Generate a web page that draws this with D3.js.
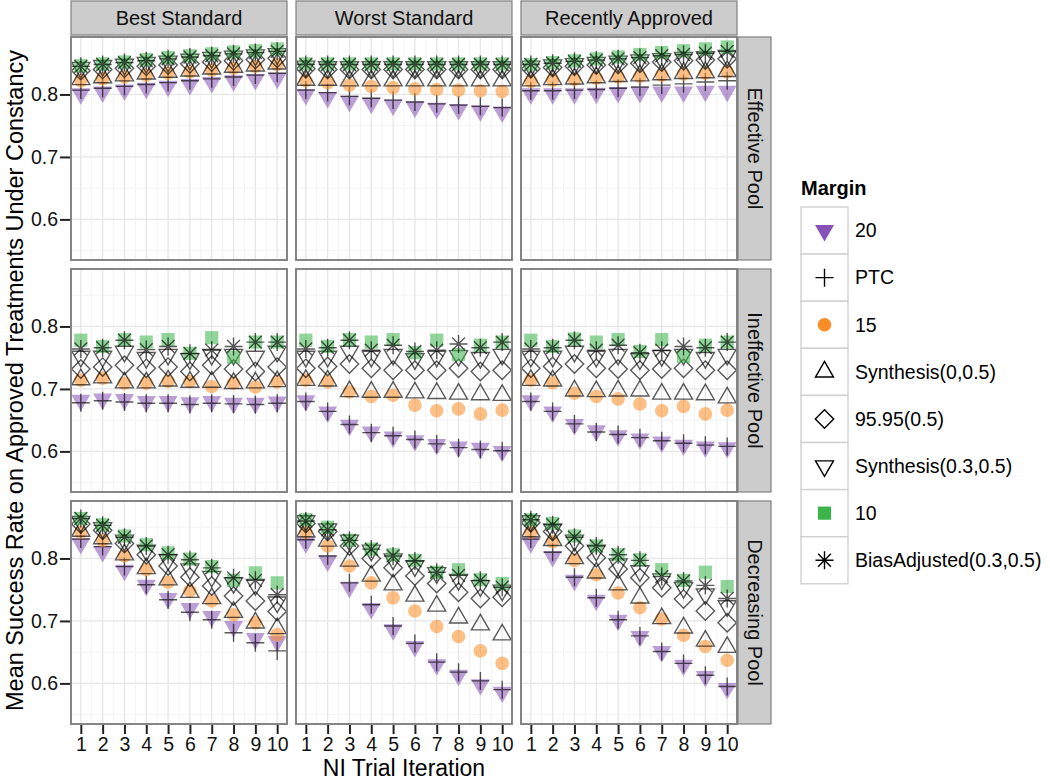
<!DOCTYPE html>
<html>
<head>
<meta charset="utf-8">
<script src="https://cdn.jsdelivr.net/npm/d3@7/dist/d3.min.js"></script>
<style>
  html, body { margin: 0; padding: 0; background: #fff; }
  svg { display: block; font-family: "Liberation Sans", Arial, sans-serif; }
</style>
</head>
<body>
<svg id="chart" width="1050" height="782"></svg>
<script>
// ---------------- DATA ----------------
const iterations = [1, 2, 3, 4, 5, 6, 7, 8, 9, 10];
const columnFacets = ["Best Standard", "Worst Standard", "Recently Approved"];
const rowFacets = ["Effective Pool", "Ineffective Pool", "Decreasing Pool"];
const margins = ["20", "PTC", "15", "Synthesis(0,0.5)", "95.95(0.5)", "Synthesis(0.3,0.5)", "10", "BiasAdjusted(0.3,0.5)"];
const yTicks = [0.6, 0.7, 0.8];
const yMinor = [0.55, 0.65, 0.75, 0.85];

// each panel: rows in the order of `margins`, 10 values per iteration
const bestEffective = [
  [0.801, 0.804, 0.807, 0.810, 0.813, 0.816, 0.819, 0.822, 0.824, 0.826],
  [0.807, 0.810, 0.813, 0.816, 0.819, 0.822, 0.825, 0.828, 0.831, 0.834],
  [0.822, 0.825, 0.828, 0.831, 0.834, 0.836, 0.839, 0.842, 0.845, 0.848],
  [0.824, 0.827, 0.830, 0.833, 0.836, 0.838, 0.841, 0.844, 0.846, 0.849],
  [0.838, 0.840, 0.842, 0.845, 0.847, 0.849, 0.852, 0.854, 0.856, 0.858],
  [0.843, 0.846, 0.848, 0.851, 0.853, 0.856, 0.859, 0.861, 0.863, 0.865],
  [0.846, 0.849, 0.852, 0.856, 0.859, 0.862, 0.865, 0.868, 0.870, 0.873],
  [0.845, 0.848, 0.851, 0.854, 0.857, 0.860, 0.862, 0.865, 0.867, 0.869]
];
const worstEffective = [
  [0.800, 0.795, 0.789, 0.786, 0.783, 0.780, 0.778, 0.776, 0.774, 0.772],
  [0.807, 0.803, 0.797, 0.794, 0.791, 0.788, 0.785, 0.783, 0.781, 0.779],
  [0.822, 0.819, 0.815, 0.813, 0.811, 0.809, 0.808, 0.807, 0.806, 0.805],
  [0.823, 0.823, 0.822, 0.822, 0.822, 0.822, 0.822, 0.822, 0.822, 0.822],
  [0.841, 0.840, 0.840, 0.840, 0.840, 0.840, 0.840, 0.840, 0.840, 0.840],
  [0.845, 0.844, 0.844, 0.844, 0.844, 0.844, 0.844, 0.844, 0.844, 0.844],
  [0.849, 0.849, 0.849, 0.849, 0.849, 0.849, 0.849, 0.849, 0.849, 0.849],
  [0.848, 0.848, 0.848, 0.848, 0.848, 0.848, 0.848, 0.848, 0.848, 0.848]
];
const recentEffective = [
  [0.801, 0.801, 0.801, 0.802, 0.803, 0.803, 0.804, 0.804, 0.805, 0.805],
  [0.806, 0.806, 0.807, 0.808, 0.810, 0.812, 0.815, 0.817, 0.820, 0.822],
  [0.821, 0.823, 0.824, 0.826, 0.828, 0.829, 0.831, 0.833, 0.834, 0.836],
  [0.822, 0.824, 0.825, 0.827, 0.829, 0.830, 0.832, 0.834, 0.835, 0.837],
  [0.841, 0.843, 0.845, 0.847, 0.848, 0.850, 0.852, 0.854, 0.855, 0.857],
  [0.845, 0.847, 0.849, 0.851, 0.853, 0.855, 0.857, 0.859, 0.860, 0.862],
  [0.848, 0.851, 0.854, 0.857, 0.860, 0.864, 0.867, 0.870, 0.873, 0.876],
  [0.848, 0.850, 0.853, 0.855, 0.857, 0.859, 0.862, 0.864, 0.866, 0.869]
];
const bestIneffective = [
  [0.682, 0.684, 0.683, 0.680, 0.680, 0.678, 0.680, 0.677, 0.677, 0.679],
  [0.678, 0.681, 0.679, 0.677, 0.677, 0.675, 0.677, 0.676, 0.675, 0.677],
  [0.714, 0.717, 0.709, 0.709, 0.712, 0.712, 0.704, 0.709, 0.703, 0.711],
  [0.715, 0.718, 0.710, 0.710, 0.713, 0.711, 0.711, 0.709, 0.710, 0.712],
  [0.732, 0.735, 0.738, 0.733, 0.735, 0.728, 0.738, 0.732, 0.728, 0.735],
  [0.752, 0.752, 0.760, 0.750, 0.755, 0.748, 0.755, 0.755, 0.752, 0.760],
  [0.778, 0.768, 0.779, 0.775, 0.779, 0.757, 0.782, 0.751, 0.775, 0.775],
  [0.764, 0.766, 0.778, 0.763, 0.768, 0.757, 0.762, 0.768, 0.775, 0.775]
];
const worstIneffective = [
  [0.681, 0.663, 0.642, 0.631, 0.623, 0.617, 0.611, 0.607, 0.605, 0.600],
  [0.680, 0.664, 0.643, 0.630, 0.625, 0.619, 0.612, 0.606, 0.603, 0.601],
  [0.714, 0.711, 0.695, 0.688, 0.690, 0.674, 0.665, 0.668, 0.660, 0.666],
  [0.714, 0.713, 0.696, 0.695, 0.695, 0.694, 0.693, 0.692, 0.691, 0.690],
  [0.733, 0.736, 0.740, 0.733, 0.730, 0.730, 0.730, 0.733, 0.728, 0.730],
  [0.752, 0.752, 0.760, 0.752, 0.755, 0.748, 0.752, 0.753, 0.750, 0.755],
  [0.778, 0.768, 0.779, 0.775, 0.779, 0.758, 0.778, 0.755, 0.770, 0.775],
  [0.764, 0.766, 0.778, 0.762, 0.770, 0.760, 0.762, 0.772, 0.766, 0.775]
];
const recentIneffective = [
  [0.681, 0.663, 0.643, 0.633, 0.625, 0.620, 0.615, 0.610, 0.607, 0.606],
  [0.680, 0.664, 0.644, 0.631, 0.627, 0.622, 0.617, 0.613, 0.610, 0.608],
  [0.714, 0.710, 0.693, 0.688, 0.684, 0.676, 0.665, 0.672, 0.660, 0.666],
  [0.714, 0.713, 0.697, 0.696, 0.697, 0.697, 0.692, 0.692, 0.691, 0.686],
  [0.733, 0.736, 0.740, 0.733, 0.732, 0.730, 0.732, 0.733, 0.730, 0.730],
  [0.752, 0.752, 0.760, 0.752, 0.755, 0.748, 0.753, 0.755, 0.750, 0.755],
  [0.778, 0.768, 0.780, 0.775, 0.779, 0.760, 0.779, 0.752, 0.770, 0.775],
  [0.764, 0.766, 0.778, 0.762, 0.770, 0.758, 0.762, 0.768, 0.766, 0.775]
];
const bestDecreasing = [
  [0.824, 0.811, 0.781, 0.757, 0.736, 0.720, 0.707, 0.691, 0.672, 0.667],
  [0.831, 0.819, 0.787, 0.758, 0.734, 0.714, 0.702, 0.681, 0.665, 0.652],
  [0.842, 0.829, 0.804, 0.782, 0.762, 0.748, 0.732, 0.710, 0.697, 0.678],
  [0.844, 0.832, 0.806, 0.784, 0.766, 0.746, 0.736, 0.714, 0.697, 0.688],
  [0.855, 0.845, 0.824, 0.806, 0.788, 0.770, 0.756, 0.740, 0.732, 0.715],
  [0.859, 0.849, 0.829, 0.813, 0.798, 0.783, 0.771, 0.761, 0.758, 0.730],
  [0.864, 0.854, 0.836, 0.822, 0.809, 0.799, 0.787, 0.765, 0.777, 0.761],
  [0.864, 0.853, 0.834, 0.820, 0.806, 0.798, 0.785, 0.769, 0.765, 0.742]
];
const worstDecreasing = [
  [0.825, 0.796, 0.754, 0.720, 0.686, 0.659, 0.630, 0.613, 0.598, 0.586],
  [0.830, 0.804, 0.761, 0.726, 0.692, 0.664, 0.634, 0.618, 0.604, 0.590],
  [0.842, 0.820, 0.788, 0.761, 0.737, 0.716, 0.691, 0.675, 0.652, 0.632],
  [0.843, 0.828, 0.796, 0.772, 0.758, 0.740, 0.724, 0.705, 0.694, 0.678],
  [0.856, 0.843, 0.820, 0.800, 0.785, 0.772, 0.760, 0.746, 0.736, 0.738],
  [0.860, 0.847, 0.829, 0.813, 0.799, 0.788, 0.777, 0.766, 0.756, 0.749],
  [0.862, 0.850, 0.829, 0.815, 0.806, 0.797, 0.778, 0.782, 0.766, 0.760],
  [0.860, 0.846, 0.829, 0.815, 0.804, 0.796, 0.778, 0.773, 0.765, 0.754]
];
const recentDecreasing = [
  [0.825, 0.803, 0.765, 0.733, 0.701, 0.675, 0.651, 0.629, 0.611, 0.592],
  [0.831, 0.810, 0.770, 0.737, 0.702, 0.676, 0.651, 0.632, 0.613, 0.595],
  [0.842, 0.827, 0.797, 0.774, 0.745, 0.721, 0.703, 0.677, 0.659, 0.637],
  [0.843, 0.829, 0.800, 0.777, 0.758, 0.737, 0.704, 0.689, 0.668, 0.658],
  [0.857, 0.843, 0.820, 0.801, 0.783, 0.769, 0.753, 0.735, 0.716, 0.697],
  [0.860, 0.847, 0.829, 0.813, 0.791, 0.780, 0.767, 0.753, 0.743, 0.724],
  [0.862, 0.856, 0.836, 0.820, 0.806, 0.798, 0.782, 0.765, 0.778, 0.755],
  [0.862, 0.854, 0.834, 0.820, 0.806, 0.797, 0.771, 0.764, 0.757, 0.736]
];
const panelData = [
  [bestEffective, worstEffective, recentEffective],
  [bestIneffective, worstIneffective, recentIneffective],
  [bestDecreasing, worstDecreasing, recentDecreasing]
];

// ---------------- STYLE ----------------
const palette = { purple: "#8752B6", orange: "#FA8C25", green: "#3DB44B", black: "#000000" };
const marginStyle = [
  { shape: "triDownFill", color: palette.purple, filled: true },
  { shape: "plus", color: palette.black, filled: false },
  { shape: "circle", color: palette.orange, filled: true },
  { shape: "triUp", color: palette.black, filled: false },
  { shape: "diamond", color: palette.black, filled: false },
  { shape: "triDown", color: palette.black, filled: false },
  { shape: "square", color: palette.green, filled: true },
  { shape: "asterisk", color: palette.black, filled: false }
];

function shapePath(shape) {
  const s3 = Math.sqrt(3);
  switch (shape) {
    case "triDownFill": { const a = 19, r = a / s3; return `M${-a/2},${-r/2}L${a/2},${-r/2}L0,${r}Z`; }
    case "triDown": { const a = 18, r = a / s3; return `M${-a/2},${-r/2}L${a/2},${-r/2}L0,${r}Z`; }
    case "triUp": { const a = 18, r = a / s3; return `M0,${-r}L${a/2},${r/2}L${-a/2},${r/2}Z`; }
    case "plus": { const h = 9; return `M${-h},0H${h}M0,${-h}V${h}`; }
    case "asterisk": { const h = 9, d = 6.4; return `M${-h},0H${h}M0,${-h}V${h}M${-d},${-d}L${d},${d}M${-d},${d}L${d},${-d}`; }
    case "diamond": { const h = 9.2; return `M0,${-h}L${h},0L0,${h}L${-h},0Z`; }
    case "square": { const h = 6.6; return `M${-h},${-h}H${h}V${h}H${-h}Z`; }
    case "circle": { const r = 6.8; return `M${r},0A${r},${r} 0 1,1 ${-r},0A${r},${r} 0 1,1 ${r},0Z`; }
  }
}

// ---------------- LAYOUT ----------------
const svg = d3.select("#chart");
const panelW = 216, panelH = 223;
const colX = [71, 296, 521];
const rowY = [37, 269, 501];
const font = "Liberation Sans, Arial, sans-serif";

const x = d3.scaleLinear().domain([0.55, 10.45]).range([0, panelW]);
const y = d3.scaleLinear().domain([0.535, 0.892]).range([panelH, 0]);

const defs = svg.append("defs");
defs.append("clipPath").attr("id", "panelClip")
  .append("rect").attr("x", 0).attr("y", 0).attr("width", panelW).attr("height", panelH);

// top strips
columnFacets.forEach((name, c) => {
  const g = svg.append("g").attr("transform", `translate(${colX[c]},1)`);
  g.append("rect").attr("width", panelW).attr("height", 34)
    .attr("fill", "#cccccc").attr("stroke", "#7f7f7f").attr("stroke-width", 1.2);
  g.append("text").attr("x", panelW / 2).attr("y", 17).attr("dy", "0.35em")
    .attr("text-anchor", "middle").attr("font-size", 20).attr("fill", "#111").text(name);
});

// right strips
rowFacets.forEach((name, r) => {
  const g = svg.append("g").attr("transform", `translate(738,${rowY[r]})`);
  g.append("rect").attr("width", 33).attr("height", panelH)
    .attr("fill", "#cccccc").attr("stroke", "#7f7f7f").attr("stroke-width", 1.2);
  g.append("text").attr("transform", `translate(16.5,${panelH / 2}) rotate(90)`)
    .attr("dy", "0.35em").attr("text-anchor", "middle")
    .attr("font-size", 20).attr("fill", "#111").text(name);
});

// panels
rowFacets.forEach((rn, r) => {
  columnFacets.forEach((cn, c) => {
    const g = svg.append("g").attr("transform", `translate(${colX[c]},${rowY[r]})`);
    g.append("rect").attr("width", panelW).attr("height", panelH).attr("fill", "#fff");
    // minor grid
    g.selectAll(".xminor").data(iterations.slice(0, -1).map(v => v + 0.5)).join("line")
      .attr("x1", d => x(d)).attr("x2", d => x(d)).attr("y1", 0).attr("y2", panelH)
      .attr("stroke", "#f3f3f3").attr("stroke-width", 1);
    g.selectAll(".yminor").data(yMinor).join("line")
      .attr("x1", 0).attr("x2", panelW).attr("y1", d => y(d)).attr("y2", d => y(d))
      .attr("stroke", "#f3f3f3").attr("stroke-width", 1);
    // major grid
    g.selectAll(".xmajor").data(iterations).join("line")
      .attr("x1", d => x(d)).attr("x2", d => x(d)).attr("y1", 0).attr("y2", panelH)
      .attr("stroke", "#e6e6e6").attr("stroke-width", 1.3);
    g.selectAll(".ymajor").data(yTicks).join("line")
      .attr("x1", 0).attr("x2", panelW).attr("y1", d => y(d)).attr("y2", d => y(d))
      .attr("stroke", "#e6e6e6").attr("stroke-width", 1.3);

    // points
    const pts = g.append("g").attr("clip-path", "url(#panelClip)");
    const data = panelData[r][c];
    marginStyle.forEach((st, m) => {
      const vals = data[m];
      const sel = pts.selectAll(null).data(iterations).join("path")
        .attr("d", shapePath(st.shape))
        .attr("transform", (d, i) => `translate(${x(d)},${y(vals[i])})`);
      if (st.filled) {
        sel.attr("fill", st.color).attr("fill-opacity", 0.56).attr("stroke", "none");
      } else {
        sel.attr("fill", "none").attr("stroke", st.color).attr("stroke-opacity", 0.65)
          .attr("stroke-width", 1.4);
      }
    });

    // border
    g.append("rect").attr("width", panelW).attr("height", panelH)
      .attr("fill", "none").attr("stroke", "#7f7f7f").attr("stroke-width", 1.9);

    // axes
    if (c === 0) {
      const ax = d3.axisLeft(y).tickValues(yTicks).tickSize(10).tickPadding(3).tickFormat(d3.format(".1f"));
      const a = g.append("g").call(ax);
      a.select(".domain").remove();
      a.selectAll(".tick line").attr("stroke", "#222").attr("stroke-width", 2).attr("transform", "translate(-1,0)");
      a.selectAll(".tick text").attr("font-size", 19.5).attr("font-family", font).attr("fill", "#111");
    }
    if (r === 2) {
      const ax = d3.axisBottom(x).tickValues(iterations).tickSize(9).tickPadding(3).tickFormat(d3.format("d"));
      const a = g.append("g").attr("transform", `translate(0,${panelH + 1})`).call(ax);
      a.select(".domain").remove();
      a.selectAll(".tick line").attr("stroke", "#222").attr("stroke-width", 2);
      a.selectAll(".tick text").attr("font-size", 19.5).attr("font-family", font).attr("fill", "#111");
    }
  });
});

// axis titles
svg.append("text").attr("x", (colX[0] + colX[2] + panelW) / 2).attr("y", 776)
  .attr("text-anchor", "middle").attr("font-size", 23).attr("fill", "#000").text("NI Trial Iteration");
svg.append("text").attr("transform", `translate(23,${(rowY[0] + rowY[2] + panelH) / 2}) rotate(-90)`)
  .attr("text-anchor", "middle").attr("font-size", 23.5).attr("fill", "#000")
  .text("Mean Success Rate on Approved Treatments Under Constancy");

// legend
const lg = svg.append("g").attr("transform", "translate(801,0)");
lg.append("text").attr("x", 0).attr("y", 195).attr("font-size", 20).attr("font-weight", "bold")
  .attr("fill", "#000").text("Margin");
const keyH = 47.1, keyW = 47, key0 = 207;
margins.forEach((name, i) => {
  const ky = key0 + i * keyH;
  lg.append("rect").attr("x", 0).attr("y", ky).attr("width", keyW).attr("height", keyH)
    .attr("fill", "#fff").attr("stroke", "#d0d0d0").attr("stroke-width", 1.4);
  const st = marginStyle[i];
  const p = lg.append("path").attr("d", shapePath(st.shape))
    .attr("transform", `translate(${keyW / 2},${ky + keyH / 2})`);
  if (st.filled) p.attr("fill", st.color).attr("stroke", "none");
  else p.attr("fill", "none").attr("stroke", st.color).attr("stroke-width", 1.4);
  lg.append("text").attr("x", 54).attr("y", ky + keyH / 2).attr("dy", "0.35em")
    .attr("font-size", 19.5).attr("fill", "#000").text(name);
});
</script>
</body>
</html>
